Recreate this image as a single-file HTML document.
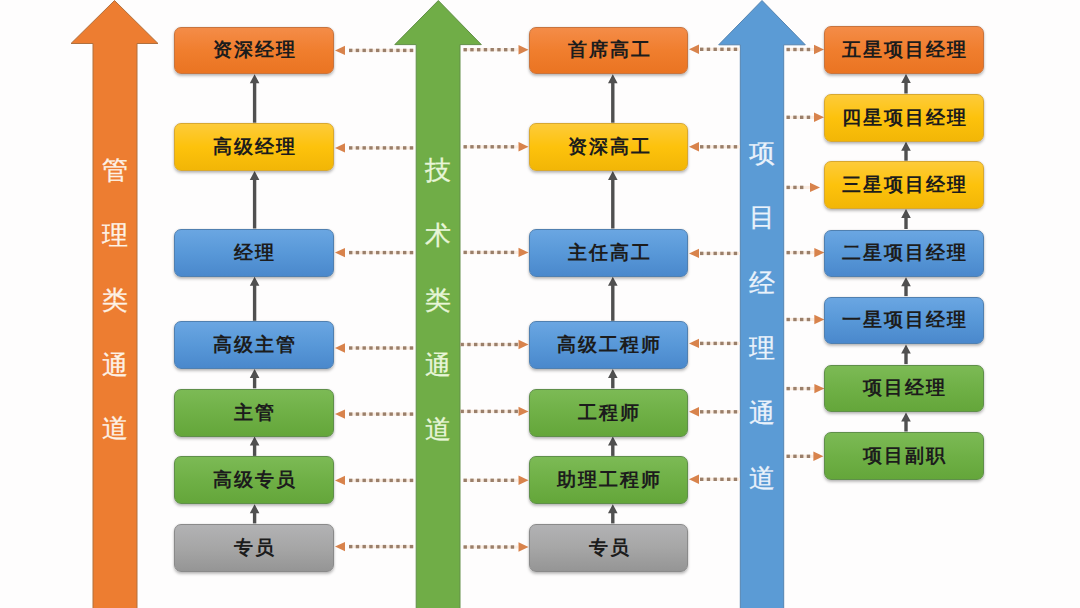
<!DOCTYPE html>
<html><head><meta charset="utf-8"><style>
html,body{margin:0;padding:0;background:#fefdfd;}
body{width:1080px;height:608px;position:relative;overflow:hidden;font-family:"Liberation Serif",serif;}
.bx{position:absolute;border-radius:7px;box-sizing:border-box;display:flex;align-items:center;justify-content:center;
 font-weight:bold;font-size:19px;color:#1c1c1c;letter-spacing:2px;padding-left:2px;box-shadow:0 2px 3px rgba(0,0,0,0.25),0 0 2px rgba(0,0,0,0.12);}
.vt{position:absolute;font-size:26px;line-height:26px;font-weight:400;width:44px;text-align:center;}
svg{position:absolute;left:0;top:0;}
</style></head><body>

<svg width="1080" height="608" viewBox="0 0 1080 608">
<polygon points="114.5,0.5 158,43.5 137,43.5 137,610 93,610 93,43.5 71,43.5" fill="#ed7d31" stroke="#b0703e" stroke-width="1"/>
<polygon points="438.3,0.5 481.3,44.6 460,44.6 460,610 416.2,610 416.2,44.6 394.8,44.6" fill="#70ad47" stroke="#628f48" stroke-width="1"/>
<polygon points="762,0.5 805.3,44.8 783.7,44.8 783.7,610 740.3,610 740.3,44.8 718.7,44.8" fill="#5b9bd5" stroke="#5584b0" stroke-width="1"/>
<polygon points="335,50.4 345,45.699999999999996 345,55.1" fill="#d8834c"/>
<rect x="349.00" y="48.90" width="65.00" height="3" fill="#fbede2"/><rect x="349.00" y="48.70" width="3.4" height="3.4" fill="#9a7f6a"/><rect x="355.75" y="48.70" width="3.4" height="3.4" fill="#9a7f6a"/><rect x="362.50" y="48.70" width="3.4" height="3.4" fill="#9a7f6a"/><rect x="369.25" y="48.70" width="3.4" height="3.4" fill="#9a7f6a"/><rect x="376.00" y="48.70" width="3.4" height="3.4" fill="#9a7f6a"/><rect x="382.75" y="48.70" width="3.4" height="3.4" fill="#9a7f6a"/><rect x="389.50" y="48.70" width="3.4" height="3.4" fill="#9a7f6a"/><rect x="396.25" y="48.70" width="3.4" height="3.4" fill="#9a7f6a"/><rect x="403.00" y="48.70" width="3.4" height="3.4" fill="#9a7f6a"/><rect x="409.75" y="48.70" width="3.4" height="3.4" fill="#9a7f6a"/>
<rect x="463.50" y="48.20" width="54.50" height="3" fill="#fbede2"/><rect x="463.50" y="48.00" width="3.4" height="3.4" fill="#9a7f6a"/><rect x="470.25" y="48.00" width="3.4" height="3.4" fill="#9a7f6a"/><rect x="477.00" y="48.00" width="3.4" height="3.4" fill="#9a7f6a"/><rect x="483.75" y="48.00" width="3.4" height="3.4" fill="#9a7f6a"/><rect x="490.50" y="48.00" width="3.4" height="3.4" fill="#9a7f6a"/><rect x="497.25" y="48.00" width="3.4" height="3.4" fill="#9a7f6a"/><rect x="504.00" y="48.00" width="3.4" height="3.4" fill="#9a7f6a"/><rect x="510.75" y="48.00" width="3.4" height="3.4" fill="#9a7f6a"/>
<polygon points="528.5,49.7 518.5,45.0 518.5,54.400000000000006" fill="#d8834c"/>
<polygon points="335,147.9 345,143.20000000000002 345,152.6" fill="#d8834c"/>
<rect x="349.00" y="146.40" width="65.00" height="3" fill="#fbede2"/><rect x="349.00" y="146.20" width="3.4" height="3.4" fill="#9a7f6a"/><rect x="355.75" y="146.20" width="3.4" height="3.4" fill="#9a7f6a"/><rect x="362.50" y="146.20" width="3.4" height="3.4" fill="#9a7f6a"/><rect x="369.25" y="146.20" width="3.4" height="3.4" fill="#9a7f6a"/><rect x="376.00" y="146.20" width="3.4" height="3.4" fill="#9a7f6a"/><rect x="382.75" y="146.20" width="3.4" height="3.4" fill="#9a7f6a"/><rect x="389.50" y="146.20" width="3.4" height="3.4" fill="#9a7f6a"/><rect x="396.25" y="146.20" width="3.4" height="3.4" fill="#9a7f6a"/><rect x="403.00" y="146.20" width="3.4" height="3.4" fill="#9a7f6a"/><rect x="409.75" y="146.20" width="3.4" height="3.4" fill="#9a7f6a"/>
<rect x="463.50" y="145.30" width="54.50" height="3" fill="#fbede2"/><rect x="463.50" y="145.10" width="3.4" height="3.4" fill="#9a7f6a"/><rect x="470.25" y="145.10" width="3.4" height="3.4" fill="#9a7f6a"/><rect x="477.00" y="145.10" width="3.4" height="3.4" fill="#9a7f6a"/><rect x="483.75" y="145.10" width="3.4" height="3.4" fill="#9a7f6a"/><rect x="490.50" y="145.10" width="3.4" height="3.4" fill="#9a7f6a"/><rect x="497.25" y="145.10" width="3.4" height="3.4" fill="#9a7f6a"/><rect x="504.00" y="145.10" width="3.4" height="3.4" fill="#9a7f6a"/><rect x="510.75" y="145.10" width="3.4" height="3.4" fill="#9a7f6a"/>
<polygon points="528.5,146.8 518.5,142.10000000000002 518.5,151.5" fill="#d8834c"/>
<polygon points="335,252.6 345,247.9 345,257.3" fill="#d8834c"/>
<rect x="349.00" y="251.10" width="65.00" height="3" fill="#fbede2"/><rect x="349.00" y="250.90" width="3.4" height="3.4" fill="#9a7f6a"/><rect x="355.75" y="250.90" width="3.4" height="3.4" fill="#9a7f6a"/><rect x="362.50" y="250.90" width="3.4" height="3.4" fill="#9a7f6a"/><rect x="369.25" y="250.90" width="3.4" height="3.4" fill="#9a7f6a"/><rect x="376.00" y="250.90" width="3.4" height="3.4" fill="#9a7f6a"/><rect x="382.75" y="250.90" width="3.4" height="3.4" fill="#9a7f6a"/><rect x="389.50" y="250.90" width="3.4" height="3.4" fill="#9a7f6a"/><rect x="396.25" y="250.90" width="3.4" height="3.4" fill="#9a7f6a"/><rect x="403.00" y="250.90" width="3.4" height="3.4" fill="#9a7f6a"/><rect x="409.75" y="250.90" width="3.4" height="3.4" fill="#9a7f6a"/>
<rect x="463.50" y="250.90" width="54.50" height="3" fill="#fbede2"/><rect x="463.50" y="250.70" width="3.4" height="3.4" fill="#9a7f6a"/><rect x="470.25" y="250.70" width="3.4" height="3.4" fill="#9a7f6a"/><rect x="477.00" y="250.70" width="3.4" height="3.4" fill="#9a7f6a"/><rect x="483.75" y="250.70" width="3.4" height="3.4" fill="#9a7f6a"/><rect x="490.50" y="250.70" width="3.4" height="3.4" fill="#9a7f6a"/><rect x="497.25" y="250.70" width="3.4" height="3.4" fill="#9a7f6a"/><rect x="504.00" y="250.70" width="3.4" height="3.4" fill="#9a7f6a"/><rect x="510.75" y="250.70" width="3.4" height="3.4" fill="#9a7f6a"/>
<polygon points="528.5,252.4 518.5,247.70000000000002 518.5,257.1" fill="#d8834c"/>
<polygon points="335,348 345,343.3 345,352.7" fill="#d8834c"/>
<rect x="349.00" y="346.50" width="65.00" height="3" fill="#fbede2"/><rect x="349.00" y="346.30" width="3.4" height="3.4" fill="#9a7f6a"/><rect x="355.75" y="346.30" width="3.4" height="3.4" fill="#9a7f6a"/><rect x="362.50" y="346.30" width="3.4" height="3.4" fill="#9a7f6a"/><rect x="369.25" y="346.30" width="3.4" height="3.4" fill="#9a7f6a"/><rect x="376.00" y="346.30" width="3.4" height="3.4" fill="#9a7f6a"/><rect x="382.75" y="346.30" width="3.4" height="3.4" fill="#9a7f6a"/><rect x="389.50" y="346.30" width="3.4" height="3.4" fill="#9a7f6a"/><rect x="396.25" y="346.30" width="3.4" height="3.4" fill="#9a7f6a"/><rect x="403.00" y="346.30" width="3.4" height="3.4" fill="#9a7f6a"/><rect x="409.75" y="346.30" width="3.4" height="3.4" fill="#9a7f6a"/>
<rect x="460.50" y="343.00" width="57.50" height="3" fill="#fbede2"/><rect x="460.50" y="342.80" width="3.4" height="3.4" fill="#9a7f6a"/><rect x="467.25" y="342.80" width="3.4" height="3.4" fill="#9a7f6a"/><rect x="474.00" y="342.80" width="3.4" height="3.4" fill="#9a7f6a"/><rect x="480.75" y="342.80" width="3.4" height="3.4" fill="#9a7f6a"/><rect x="487.50" y="342.80" width="3.4" height="3.4" fill="#9a7f6a"/><rect x="494.25" y="342.80" width="3.4" height="3.4" fill="#9a7f6a"/><rect x="501.00" y="342.80" width="3.4" height="3.4" fill="#9a7f6a"/><rect x="507.75" y="342.80" width="3.4" height="3.4" fill="#9a7f6a"/><rect x="514.50" y="342.80" width="3.4" height="3.4" fill="#9a7f6a"/>
<polygon points="528.5,344.5 518.5,339.8 518.5,349.2" fill="#d8834c"/>
<polygon points="335,414.1 345,409.40000000000003 345,418.8" fill="#d8834c"/>
<rect x="349.00" y="412.60" width="65.00" height="3" fill="#fbede2"/><rect x="349.00" y="412.40" width="3.4" height="3.4" fill="#9a7f6a"/><rect x="355.75" y="412.40" width="3.4" height="3.4" fill="#9a7f6a"/><rect x="362.50" y="412.40" width="3.4" height="3.4" fill="#9a7f6a"/><rect x="369.25" y="412.40" width="3.4" height="3.4" fill="#9a7f6a"/><rect x="376.00" y="412.40" width="3.4" height="3.4" fill="#9a7f6a"/><rect x="382.75" y="412.40" width="3.4" height="3.4" fill="#9a7f6a"/><rect x="389.50" y="412.40" width="3.4" height="3.4" fill="#9a7f6a"/><rect x="396.25" y="412.40" width="3.4" height="3.4" fill="#9a7f6a"/><rect x="403.00" y="412.40" width="3.4" height="3.4" fill="#9a7f6a"/><rect x="409.75" y="412.40" width="3.4" height="3.4" fill="#9a7f6a"/>
<rect x="460.50" y="409.90" width="57.50" height="3" fill="#fbede2"/><rect x="460.50" y="409.70" width="3.4" height="3.4" fill="#9a7f6a"/><rect x="467.25" y="409.70" width="3.4" height="3.4" fill="#9a7f6a"/><rect x="474.00" y="409.70" width="3.4" height="3.4" fill="#9a7f6a"/><rect x="480.75" y="409.70" width="3.4" height="3.4" fill="#9a7f6a"/><rect x="487.50" y="409.70" width="3.4" height="3.4" fill="#9a7f6a"/><rect x="494.25" y="409.70" width="3.4" height="3.4" fill="#9a7f6a"/><rect x="501.00" y="409.70" width="3.4" height="3.4" fill="#9a7f6a"/><rect x="507.75" y="409.70" width="3.4" height="3.4" fill="#9a7f6a"/><rect x="514.50" y="409.70" width="3.4" height="3.4" fill="#9a7f6a"/>
<polygon points="528.5,411.4 518.5,406.7 518.5,416.09999999999997" fill="#d8834c"/>
<polygon points="335,480.4 345,475.7 345,485.09999999999997" fill="#d8834c"/>
<rect x="349.00" y="478.90" width="65.00" height="3" fill="#fbede2"/><rect x="349.00" y="478.70" width="3.4" height="3.4" fill="#9a7f6a"/><rect x="355.75" y="478.70" width="3.4" height="3.4" fill="#9a7f6a"/><rect x="362.50" y="478.70" width="3.4" height="3.4" fill="#9a7f6a"/><rect x="369.25" y="478.70" width="3.4" height="3.4" fill="#9a7f6a"/><rect x="376.00" y="478.70" width="3.4" height="3.4" fill="#9a7f6a"/><rect x="382.75" y="478.70" width="3.4" height="3.4" fill="#9a7f6a"/><rect x="389.50" y="478.70" width="3.4" height="3.4" fill="#9a7f6a"/><rect x="396.25" y="478.70" width="3.4" height="3.4" fill="#9a7f6a"/><rect x="403.00" y="478.70" width="3.4" height="3.4" fill="#9a7f6a"/><rect x="409.75" y="478.70" width="3.4" height="3.4" fill="#9a7f6a"/>
<rect x="463.50" y="478.80" width="54.50" height="3" fill="#fbede2"/><rect x="463.50" y="478.60" width="3.4" height="3.4" fill="#9a7f6a"/><rect x="470.25" y="478.60" width="3.4" height="3.4" fill="#9a7f6a"/><rect x="477.00" y="478.60" width="3.4" height="3.4" fill="#9a7f6a"/><rect x="483.75" y="478.60" width="3.4" height="3.4" fill="#9a7f6a"/><rect x="490.50" y="478.60" width="3.4" height="3.4" fill="#9a7f6a"/><rect x="497.25" y="478.60" width="3.4" height="3.4" fill="#9a7f6a"/><rect x="504.00" y="478.60" width="3.4" height="3.4" fill="#9a7f6a"/><rect x="510.75" y="478.60" width="3.4" height="3.4" fill="#9a7f6a"/>
<polygon points="528.5,480.3 518.5,475.6 518.5,485.0" fill="#d8834c"/>
<polygon points="335,546.6 345,541.9 345,551.3000000000001" fill="#d8834c"/>
<rect x="349.00" y="545.10" width="65.00" height="3" fill="#fbede2"/><rect x="349.00" y="544.90" width="3.4" height="3.4" fill="#9a7f6a"/><rect x="355.75" y="544.90" width="3.4" height="3.4" fill="#9a7f6a"/><rect x="362.50" y="544.90" width="3.4" height="3.4" fill="#9a7f6a"/><rect x="369.25" y="544.90" width="3.4" height="3.4" fill="#9a7f6a"/><rect x="376.00" y="544.90" width="3.4" height="3.4" fill="#9a7f6a"/><rect x="382.75" y="544.90" width="3.4" height="3.4" fill="#9a7f6a"/><rect x="389.50" y="544.90" width="3.4" height="3.4" fill="#9a7f6a"/><rect x="396.25" y="544.90" width="3.4" height="3.4" fill="#9a7f6a"/><rect x="403.00" y="544.90" width="3.4" height="3.4" fill="#9a7f6a"/><rect x="409.75" y="544.90" width="3.4" height="3.4" fill="#9a7f6a"/>
<rect x="463.50" y="545.50" width="54.50" height="3" fill="#fbede2"/><rect x="463.50" y="545.30" width="3.4" height="3.4" fill="#9a7f6a"/><rect x="470.25" y="545.30" width="3.4" height="3.4" fill="#9a7f6a"/><rect x="477.00" y="545.30" width="3.4" height="3.4" fill="#9a7f6a"/><rect x="483.75" y="545.30" width="3.4" height="3.4" fill="#9a7f6a"/><rect x="490.50" y="545.30" width="3.4" height="3.4" fill="#9a7f6a"/><rect x="497.25" y="545.30" width="3.4" height="3.4" fill="#9a7f6a"/><rect x="504.00" y="545.30" width="3.4" height="3.4" fill="#9a7f6a"/><rect x="510.75" y="545.30" width="3.4" height="3.4" fill="#9a7f6a"/>
<polygon points="528.5,547 518.5,542.3 518.5,551.7" fill="#d8834c"/>
<polygon points="689,49.3 699,44.599999999999994 699,54.0" fill="#d8834c"/>
<rect x="700.00" y="47.80" width="40.00" height="3" fill="#fbede2"/><rect x="700.00" y="47.60" width="3.4" height="3.4" fill="#9a7f6a"/><rect x="706.75" y="47.60" width="3.4" height="3.4" fill="#9a7f6a"/><rect x="713.50" y="47.60" width="3.4" height="3.4" fill="#9a7f6a"/><rect x="720.25" y="47.60" width="3.4" height="3.4" fill="#9a7f6a"/><rect x="727.00" y="47.60" width="3.4" height="3.4" fill="#9a7f6a"/><rect x="733.75" y="47.60" width="3.4" height="3.4" fill="#9a7f6a"/>
<polygon points="689,146.8 699,142.10000000000002 699,151.5" fill="#d8834c"/>
<rect x="700.00" y="145.30" width="40.00" height="3" fill="#fbede2"/><rect x="700.00" y="145.10" width="3.4" height="3.4" fill="#9a7f6a"/><rect x="706.75" y="145.10" width="3.4" height="3.4" fill="#9a7f6a"/><rect x="713.50" y="145.10" width="3.4" height="3.4" fill="#9a7f6a"/><rect x="720.25" y="145.10" width="3.4" height="3.4" fill="#9a7f6a"/><rect x="727.00" y="145.10" width="3.4" height="3.4" fill="#9a7f6a"/><rect x="733.75" y="145.10" width="3.4" height="3.4" fill="#9a7f6a"/>
<polygon points="689,253.4 699,248.70000000000002 699,258.1" fill="#d8834c"/>
<rect x="700.00" y="251.90" width="40.00" height="3" fill="#fbede2"/><rect x="700.00" y="251.70" width="3.4" height="3.4" fill="#9a7f6a"/><rect x="706.75" y="251.70" width="3.4" height="3.4" fill="#9a7f6a"/><rect x="713.50" y="251.70" width="3.4" height="3.4" fill="#9a7f6a"/><rect x="720.25" y="251.70" width="3.4" height="3.4" fill="#9a7f6a"/><rect x="727.00" y="251.70" width="3.4" height="3.4" fill="#9a7f6a"/><rect x="733.75" y="251.70" width="3.4" height="3.4" fill="#9a7f6a"/>
<polygon points="689,343.4 699,338.7 699,348.09999999999997" fill="#d8834c"/>
<rect x="700.00" y="341.90" width="40.00" height="3" fill="#fbede2"/><rect x="700.00" y="341.70" width="3.4" height="3.4" fill="#9a7f6a"/><rect x="706.75" y="341.70" width="3.4" height="3.4" fill="#9a7f6a"/><rect x="713.50" y="341.70" width="3.4" height="3.4" fill="#9a7f6a"/><rect x="720.25" y="341.70" width="3.4" height="3.4" fill="#9a7f6a"/><rect x="727.00" y="341.70" width="3.4" height="3.4" fill="#9a7f6a"/><rect x="733.75" y="341.70" width="3.4" height="3.4" fill="#9a7f6a"/>
<polygon points="689,411.8 699,407.1 699,416.5" fill="#d8834c"/>
<rect x="700.00" y="410.30" width="40.00" height="3" fill="#fbede2"/><rect x="700.00" y="410.10" width="3.4" height="3.4" fill="#9a7f6a"/><rect x="706.75" y="410.10" width="3.4" height="3.4" fill="#9a7f6a"/><rect x="713.50" y="410.10" width="3.4" height="3.4" fill="#9a7f6a"/><rect x="720.25" y="410.10" width="3.4" height="3.4" fill="#9a7f6a"/><rect x="727.00" y="410.10" width="3.4" height="3.4" fill="#9a7f6a"/><rect x="733.75" y="410.10" width="3.4" height="3.4" fill="#9a7f6a"/>
<polygon points="689,479.3 699,474.6 699,484.0" fill="#d8834c"/>
<rect x="700.00" y="477.80" width="40.00" height="3" fill="#fbede2"/><rect x="700.00" y="477.60" width="3.4" height="3.4" fill="#9a7f6a"/><rect x="706.75" y="477.60" width="3.4" height="3.4" fill="#9a7f6a"/><rect x="713.50" y="477.60" width="3.4" height="3.4" fill="#9a7f6a"/><rect x="720.25" y="477.60" width="3.4" height="3.4" fill="#9a7f6a"/><rect x="727.00" y="477.60" width="3.4" height="3.4" fill="#9a7f6a"/><rect x="733.75" y="477.60" width="3.4" height="3.4" fill="#9a7f6a"/>
<rect x="786.50" y="48.00" width="27.50" height="3" fill="#fbede2"/><rect x="786.50" y="47.80" width="3.4" height="3.4" fill="#9a7f6a"/><rect x="793.25" y="47.80" width="3.4" height="3.4" fill="#9a7f6a"/><rect x="800.00" y="47.80" width="3.4" height="3.4" fill="#9a7f6a"/><rect x="806.75" y="47.80" width="3.4" height="3.4" fill="#9a7f6a"/>
<polygon points="824,49.5 814,44.8 814,54.2" fill="#d8834c"/>
<rect x="786.50" y="115.80" width="27.50" height="3" fill="#fbede2"/><rect x="786.50" y="115.60" width="3.4" height="3.4" fill="#9a7f6a"/><rect x="793.25" y="115.60" width="3.4" height="3.4" fill="#9a7f6a"/><rect x="800.00" y="115.60" width="3.4" height="3.4" fill="#9a7f6a"/><rect x="806.75" y="115.60" width="3.4" height="3.4" fill="#9a7f6a"/>
<polygon points="824,117.3 814,112.6 814,122.0" fill="#d8834c"/>
<rect x="786.50" y="185.90" width="23.50" height="3" fill="#fbede2"/><rect x="786.50" y="185.70" width="3.4" height="3.4" fill="#9a7f6a"/><rect x="793.25" y="185.70" width="3.4" height="3.4" fill="#9a7f6a"/><rect x="800.00" y="185.70" width="3.4" height="3.4" fill="#9a7f6a"/>
<polygon points="820,187.4 810,182.70000000000002 810,192.1" fill="#d8834c"/>
<rect x="786.50" y="251.10" width="27.80" height="3" fill="#fbede2"/><rect x="786.50" y="250.90" width="3.4" height="3.4" fill="#9a7f6a"/><rect x="793.25" y="250.90" width="3.4" height="3.4" fill="#9a7f6a"/><rect x="800.00" y="250.90" width="3.4" height="3.4" fill="#9a7f6a"/><rect x="806.75" y="250.90" width="3.4" height="3.4" fill="#9a7f6a"/>
<polygon points="824.3,252.6 814.3,247.9 814.3,257.3" fill="#d8834c"/>
<rect x="786.50" y="318.00" width="27.80" height="3" fill="#fbede2"/><rect x="786.50" y="317.80" width="3.4" height="3.4" fill="#9a7f6a"/><rect x="793.25" y="317.80" width="3.4" height="3.4" fill="#9a7f6a"/><rect x="800.00" y="317.80" width="3.4" height="3.4" fill="#9a7f6a"/><rect x="806.75" y="317.80" width="3.4" height="3.4" fill="#9a7f6a"/>
<polygon points="824.3,319.5 814.3,314.8 814.3,324.2" fill="#d8834c"/>
<rect x="786.50" y="387.10" width="27.90" height="3" fill="#fbede2"/><rect x="786.50" y="386.90" width="3.4" height="3.4" fill="#9a7f6a"/><rect x="793.25" y="386.90" width="3.4" height="3.4" fill="#9a7f6a"/><rect x="800.00" y="386.90" width="3.4" height="3.4" fill="#9a7f6a"/><rect x="806.75" y="386.90" width="3.4" height="3.4" fill="#9a7f6a"/>
<polygon points="824.4,388.6 814.4,383.90000000000003 814.4,393.3" fill="#d8834c"/>
<rect x="786.50" y="454.80" width="26.90" height="3" fill="#fbede2"/><rect x="786.50" y="454.60" width="3.4" height="3.4" fill="#9a7f6a"/><rect x="793.25" y="454.60" width="3.4" height="3.4" fill="#9a7f6a"/><rect x="800.00" y="454.60" width="3.4" height="3.4" fill="#9a7f6a"/><rect x="806.75" y="454.60" width="3.4" height="3.4" fill="#9a7f6a"/>
<polygon points="823.4,456.3 813.4,451.6 813.4,461.0" fill="#d8834c"/>
<line x1="254.6" y1="82.3" x2="254.6" y2="122.7" stroke="#505050" stroke-width="3.4"/><polygon points="254.6,74.3 259.4,83.3 249.79999999999998,83.3" fill="#505050"/>
<line x1="254.6" y1="179.0" x2="254.6" y2="228.5" stroke="#505050" stroke-width="3.4"/><polygon points="254.6,171.0 259.4,180.0 249.79999999999998,180.0" fill="#505050"/>
<line x1="254.6" y1="284.8" x2="254.6" y2="320.8" stroke="#505050" stroke-width="3.4"/><polygon points="254.6,276.8 259.4,285.8 249.79999999999998,285.8" fill="#505050"/>
<line x1="254.6" y1="377.1" x2="254.6" y2="388.3" stroke="#505050" stroke-width="3.4"/><polygon points="254.6,369.1 259.4,378.1 249.79999999999998,378.1" fill="#505050"/>
<line x1="254.6" y1="444.6" x2="254.6" y2="455.9" stroke="#505050" stroke-width="3.4"/><polygon points="254.6,436.6 259.4,445.6 249.79999999999998,445.6" fill="#505050"/>
<line x1="254.6" y1="512.2" x2="254.6" y2="523.4" stroke="#505050" stroke-width="3.4"/><polygon points="254.6,504.2 259.4,513.2 249.79999999999998,513.2" fill="#505050"/>
<line x1="612.8" y1="82.3" x2="612.8" y2="122.7" stroke="#505050" stroke-width="3.4"/><polygon points="612.8,74.3 617.5999999999999,83.3 608.0,83.3" fill="#505050"/>
<line x1="612.8" y1="179.0" x2="612.8" y2="228.5" stroke="#505050" stroke-width="3.4"/><polygon points="612.8,171.0 617.5999999999999,180.0 608.0,180.0" fill="#505050"/>
<line x1="612.8" y1="284.8" x2="612.8" y2="320.8" stroke="#505050" stroke-width="3.4"/><polygon points="612.8,276.8 617.5999999999999,285.8 608.0,285.8" fill="#505050"/>
<line x1="612.8" y1="377.1" x2="612.8" y2="388.3" stroke="#505050" stroke-width="3.4"/><polygon points="612.8,369.1 617.5999999999999,378.1 608.0,378.1" fill="#505050"/>
<line x1="612.8" y1="444.6" x2="612.8" y2="455.9" stroke="#505050" stroke-width="3.4"/><polygon points="612.8,436.6 617.5999999999999,445.6 608.0,445.6" fill="#505050"/>
<line x1="612.8" y1="512.2" x2="612.8" y2="523.4" stroke="#505050" stroke-width="3.4"/><polygon points="612.8,504.2 617.5999999999999,513.2 608.0,513.2" fill="#505050"/>
<line x1="906" y1="82.0" x2="906" y2="93.5" stroke="#505050" stroke-width="3.4"/><polygon points="906,74.0 910.8,83.0 901.2,83.0" fill="#505050"/>
<line x1="906" y1="149.8" x2="906" y2="160.7" stroke="#505050" stroke-width="3.4"/><polygon points="906,141.8 910.8,150.8 901.2,150.8" fill="#505050"/>
<line x1="906" y1="217.0" x2="906" y2="229.0" stroke="#505050" stroke-width="3.4"/><polygon points="906,209.0 910.8,218.0 901.2,218.0" fill="#505050"/>
<line x1="906" y1="285.3" x2="906" y2="296.1" stroke="#505050" stroke-width="3.4"/><polygon points="906,277.3 910.8,286.3 901.2,286.3" fill="#505050"/>
<line x1="906" y1="352.40000000000003" x2="906" y2="364.1" stroke="#505050" stroke-width="3.4"/><polygon points="906,344.40000000000003 910.8,353.40000000000003 901.2,353.40000000000003" fill="#505050"/>
<line x1="906" y1="420.40000000000003" x2="906" y2="431.5" stroke="#505050" stroke-width="3.4"/><polygon points="906,412.40000000000003 910.8,421.40000000000003 901.2,421.40000000000003" fill="#505050"/>
</svg>
<div class="bx" style="left:174.3px;top:26.5px;width:160px;height:47.8px;background:linear-gradient(180deg,#f48c48 0%,#f07e2e 50%,#ea7422 100%);border:1px solid #c8743e;">资深经理</div>
<div class="bx" style="left:528.8px;top:26.5px;width:159.7px;height:47.8px;background:linear-gradient(180deg,#f48c48 0%,#f07e2e 50%,#ea7422 100%);border:1px solid #c8743e;">首席高工</div>
<div class="bx" style="left:174.3px;top:123.2px;width:160px;height:47.8px;background:linear-gradient(180deg,#fdcb3a 0%,#fdc20c 50%,#f2b606 100%);border:1px solid #d8a830;">高级经理</div>
<div class="bx" style="left:528.8px;top:123.2px;width:159.7px;height:47.8px;background:linear-gradient(180deg,#fdcb3a 0%,#fdc20c 50%,#f2b606 100%);border:1px solid #d8a830;">资深高工</div>
<div class="bx" style="left:174.3px;top:229px;width:160px;height:47.8px;background:linear-gradient(180deg,#6aa6e2 0%,#5898d8 50%,#4a88cc 100%);border:1px solid #5080b0;">经理</div>
<div class="bx" style="left:528.8px;top:229px;width:159.7px;height:47.8px;background:linear-gradient(180deg,#6aa6e2 0%,#5898d8 50%,#4a88cc 100%);border:1px solid #5080b0;">主任高工</div>
<div class="bx" style="left:174.3px;top:321.3px;width:160px;height:47.8px;background:linear-gradient(180deg,#6aa6e2 0%,#5898d8 50%,#4a88cc 100%);border:1px solid #5080b0;">高级主管</div>
<div class="bx" style="left:528.8px;top:321.3px;width:159.7px;height:47.8px;background:linear-gradient(180deg,#6aa6e2 0%,#5898d8 50%,#4a88cc 100%);border:1px solid #5080b0;">高级工程师</div>
<div class="bx" style="left:174.3px;top:388.8px;width:160px;height:47.8px;background:linear-gradient(180deg,#7cba55 0%,#6fb046 50%,#64a63a 100%);border:1px solid #5f8f4a;">主管</div>
<div class="bx" style="left:528.8px;top:388.8px;width:159.7px;height:47.8px;background:linear-gradient(180deg,#7cba55 0%,#6fb046 50%,#64a63a 100%);border:1px solid #5f8f4a;">工程师</div>
<div class="bx" style="left:174.3px;top:456.4px;width:160px;height:47.8px;background:linear-gradient(180deg,#7cba55 0%,#6fb046 50%,#64a63a 100%);border:1px solid #5f8f4a;">高级专员</div>
<div class="bx" style="left:528.8px;top:456.4px;width:159.7px;height:47.8px;background:linear-gradient(180deg,#7cba55 0%,#6fb046 50%,#64a63a 100%);border:1px solid #5f8f4a;">助理工程师</div>
<div class="bx" style="left:174.3px;top:523.9px;width:160px;height:47.8px;background:linear-gradient(180deg,#b2b2b4 0%,#a6a6a6 50%,#959595 100%);border:1px solid #8a8a8a;">专员</div>
<div class="bx" style="left:528.8px;top:523.9px;width:159.7px;height:47.8px;background:linear-gradient(180deg,#b2b2b4 0%,#a6a6a6 50%,#959595 100%);border:1px solid #8a8a8a;">专员</div>
<div class="bx" style="left:823.8px;top:26.2px;width:160px;height:47.8px;background:linear-gradient(180deg,#f48c48 0%,#f07e2e 50%,#ea7422 100%);border:1px solid #c8743e;">五星项目经理</div>
<div class="bx" style="left:823.8px;top:94px;width:160px;height:47.8px;background:linear-gradient(180deg,#fdcb3a 0%,#fdc20c 50%,#f2b606 100%);border:1px solid #d8a830;">四星项目经理</div>
<div class="bx" style="left:823.8px;top:161.2px;width:160px;height:47.8px;background:linear-gradient(180deg,#fdcb3a 0%,#fdc20c 50%,#f2b606 100%);border:1px solid #d8a830;">三星项目经理</div>
<div class="bx" style="left:823.8px;top:229.5px;width:160px;height:47.8px;background:linear-gradient(180deg,#6aa6e2 0%,#5898d8 50%,#4a88cc 100%);border:1px solid #5080b0;">二星项目经理</div>
<div class="bx" style="left:823.8px;top:296.6px;width:160px;height:47.8px;background:linear-gradient(180deg,#6aa6e2 0%,#5898d8 50%,#4a88cc 100%);border:1px solid #5080b0;">一星项目经理</div>
<div class="bx" style="left:823.8px;top:364.6px;width:160px;height:47.8px;background:linear-gradient(180deg,#7cba55 0%,#6fb046 50%,#64a63a 100%);border:1px solid #5f8f4a;">项目经理</div>
<div class="bx" style="left:823.8px;top:432px;width:160px;height:47.8px;background:linear-gradient(180deg,#7cba55 0%,#6fb046 50%,#64a63a 100%);border:1px solid #5f8f4a;">项目副职</div>
<div class="vt" style="left:93px;top:157.5px;color:#fdf2e6;-webkit-text-stroke:0.3px #fdf2e6">管</div>
<div class="vt" style="left:93px;top:222.5px;color:#fdf2e6;-webkit-text-stroke:0.3px #fdf2e6">理</div>
<div class="vt" style="left:93px;top:287.5px;color:#fdf2e6;-webkit-text-stroke:0.3px #fdf2e6">类</div>
<div class="vt" style="left:93px;top:353px;color:#fdf2e6;-webkit-text-stroke:0.3px #fdf2e6">通</div>
<div class="vt" style="left:93px;top:416px;color:#fdf2e6;-webkit-text-stroke:0.3px #fdf2e6">道</div>
<div class="vt" style="left:416px;top:158px;color:#e8f6d8;-webkit-text-stroke:0.3px #e8f6d8">技</div>
<div class="vt" style="left:416px;top:222.5px;color:#e8f6d8;-webkit-text-stroke:0.3px #e8f6d8">术</div>
<div class="vt" style="left:416px;top:287.5px;color:#e8f6d8;-webkit-text-stroke:0.3px #e8f6d8">类</div>
<div class="vt" style="left:416px;top:353px;color:#e8f6d8;-webkit-text-stroke:0.3px #e8f6d8">通</div>
<div class="vt" style="left:416px;top:416.5px;color:#e8f6d8;-webkit-text-stroke:0.3px #e8f6d8">道</div>
<div class="vt" style="left:740px;top:141.3px;color:#eaf2fb;-webkit-text-stroke:0.3px #eaf2fb">项</div>
<div class="vt" style="left:740px;top:205.3px;color:#eaf2fb;-webkit-text-stroke:0.3px #eaf2fb">目</div>
<div class="vt" style="left:740px;top:271.4px;color:#eaf2fb;-webkit-text-stroke:0.3px #eaf2fb">经</div>
<div class="vt" style="left:740px;top:336.2px;color:#eaf2fb;-webkit-text-stroke:0.3px #eaf2fb">理</div>
<div class="vt" style="left:740px;top:401.4px;color:#eaf2fb;-webkit-text-stroke:0.3px #eaf2fb">通</div>
<div class="vt" style="left:740px;top:465.8px;color:#eaf2fb;-webkit-text-stroke:0.3px #eaf2fb">道</div>
</body></html>
